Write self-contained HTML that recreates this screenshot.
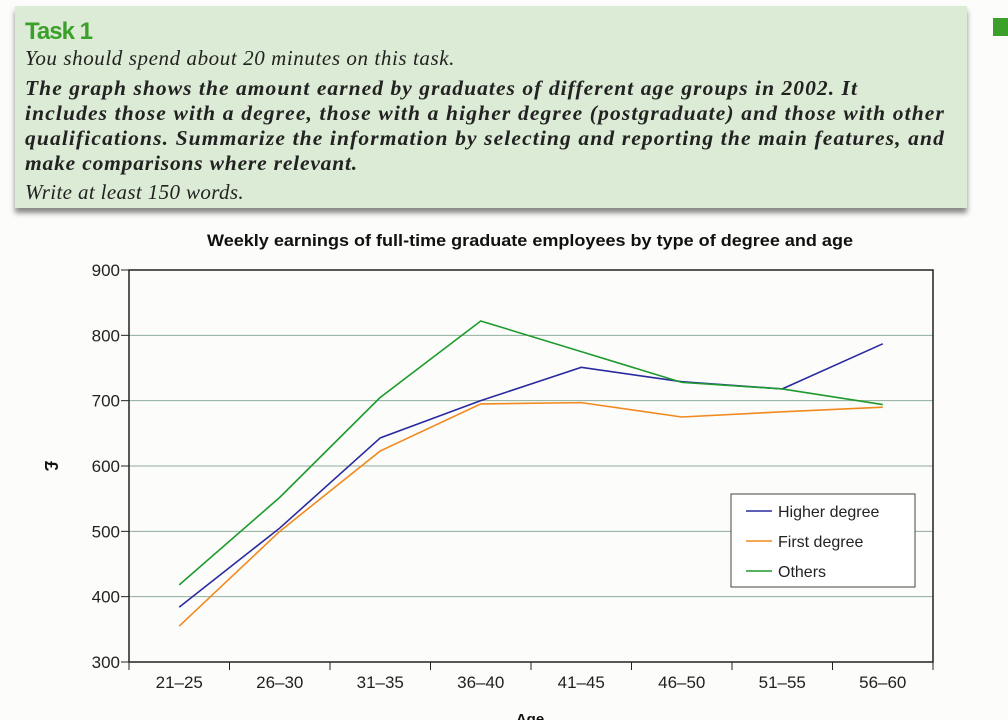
<!DOCTYPE html>
<html><head><meta charset="utf-8"><style>
body{margin:0;width:1008px;height:720px;overflow:hidden;background:#fcfcfa;position:relative;font-family:"Liberation Sans",sans-serif}
#task{position:absolute;left:15px;top:6px;width:952px;height:202px;background:#dcebd5;box-shadow:0 5px 5px #888}
#task h1{position:absolute;left:10px;top:12px;margin:0;font-size:24px;color:#3aa02a;font-weight:bold;letter-spacing:-1px}
.s{position:absolute;left:10px;font-family:"Liberation Serif",serif;font-style:italic;font-size:21px;color:#222;line-height:25px;white-space:nowrap}
.b{font-weight:bold;font-size:21.5px}
#tab{position:absolute;left:993px;top:18px;width:15px;height:18px;background:#3aa02a}
</style></head><body>
<div id="task">
<h1>Task 1</h1>
<div class="s fit" data-w="430" style="top:40px">You should spend about 20 minutes on this task.</div>
<div>
<div class="s b fit" data-w="833" style="top:70px">The graph shows the amount earned by graduates of different age groups in 2002. It</div>
<div class="s b fit" data-w="920" style="top:95px">includes those with a degree, those with a higher degree (postgraduate) and those with other</div>
<div class="s b fit" data-w="920" style="top:120px">qualifications. Summarize the information by selecting and reporting the main features, and</div>
<div class="s b fit" data-w="333" style="top:145px">make comparisons where relevant.</div>
</div>
<div class="s fit" data-w="219" style="top:174px">Write at least 150 words.</div>
</div>
<div id="tab"></div>
<svg id="c" width="1008" height="720" style="position:absolute;left:0;top:0"></svg>
<script>
document.querySelectorAll('.fit').forEach(el=>{
 const w=el.getBoundingClientRect().width;const n=el.textContent.length;
 el.style.letterSpacing=((+el.dataset.w-w)/n)+'px';
});
const categories=["21–25","26–30","31–35","36–40","41–45","46–50","51–55","56–60"];
const higher=[384,505,643,700,751,729,718,787];
const first=[355,500,623,695,697,675,683,690];
const others=[418,552,705,822,775,728,718,694];
const yTicks=[300,400,500,600,700,800,900];
const X0=129,X1=933,Y0=662,Y1=270;
const bw=(X1-X0)/categories.length;
const xs=i=>X0+bw*(i+0.5);
const ys=v=>Y0-(v-300)/600*(Y0-Y1);
const svg=document.getElementById('c');const NS='http://www.w3.org/2000/svg';
function mk(t,a,txt){const e=document.createElementNS(NS,t);for(const k in a)e.setAttribute(k,a[k]);if(txt!=null)e.textContent=txt;svg.appendChild(e);return e;}
let e=mk('text',{x:530,y:246,'text-anchor':'middle','font-size':16.5,'font-weight':'bold',fill:'#111',textLength:646,lengthAdjust:'spacingAndGlyphs'},'Weekly earnings of full-time graduate employees by type of degree and age');


yTicks.forEach(v=>{
 if(v>300&&v<900){const g=mk('line',{x1:X0,x2:X1,y1:ys(v),y2:ys(v),stroke:'#8fae9a','stroke-width':1});
 
 }
 const t=mk('line',{x1:X0-8,x2:X0,y1:ys(v),y2:ys(v),stroke:'#222'});
 
 
 const l=mk('text',{x:X0-9,y:ys(v)+6,'text-anchor':'end','font-size':17,fill:'#222'},v);
 
 
});
e=mk('rect',{x:X0,y:Y1,width:X1-X0,height:Y0-Y1,fill:'none',stroke:'#222','stroke-width':1.5});


categories.forEach((c,i)=>{
 const t=mk('line',{x1:X0+bw*i,x2:X0+bw*i,y1:Y0,y2:Y0+8,stroke:'#222'});
 
 
 const l=mk('text',{x:xs(i),y:Y0+26,'text-anchor':'middle','font-size':17,fill:'#222'},c);
 
 
});
e=mk('line',{x1:X1,x2:X1,y1:Y0,y2:Y0+8,stroke:'#222'});


e=mk('text',{x:530,y:724,'text-anchor':'middle','font-size':15,'font-weight':'bold',fill:'#111'},'Age');


e=mk('text',{x:0,y:0,'text-anchor':'middle','font-size':18,'font-weight':'bold',fill:'#111',transform:'translate(45,466) rotate(90)'},'£');


const series=[[higher,'#2a2aa0','Higher degree','series-higher-degree'],[first,'#f08a1e','First degree','series-first-degree'],[others,'#1e9a2e','Others','series-others']];
series.forEach(([d,col,name,dn])=>{
 const p=mk('polyline',{points:d.map((v,i)=>xs(i)+','+ys(v)).join(' '),fill:'none',stroke:col,'stroke-width':1.6});
 
 
});
e=mk('rect',{x:731,y:494,width:184,height:93,fill:'#fff',stroke:'#444','stroke-width':1});


series.forEach(([d,col,name],i)=>{
 const y=511+i*30;
 const l=mk('line',{x1:746,x2:772,y1:y,y2:y,stroke:col,'stroke-width':1.6});
 
 
 const t=mk('text',{x:778,y:y+6,'font-size':16,fill:'#222'},name);
 
 
});
</script>
</body></html>
